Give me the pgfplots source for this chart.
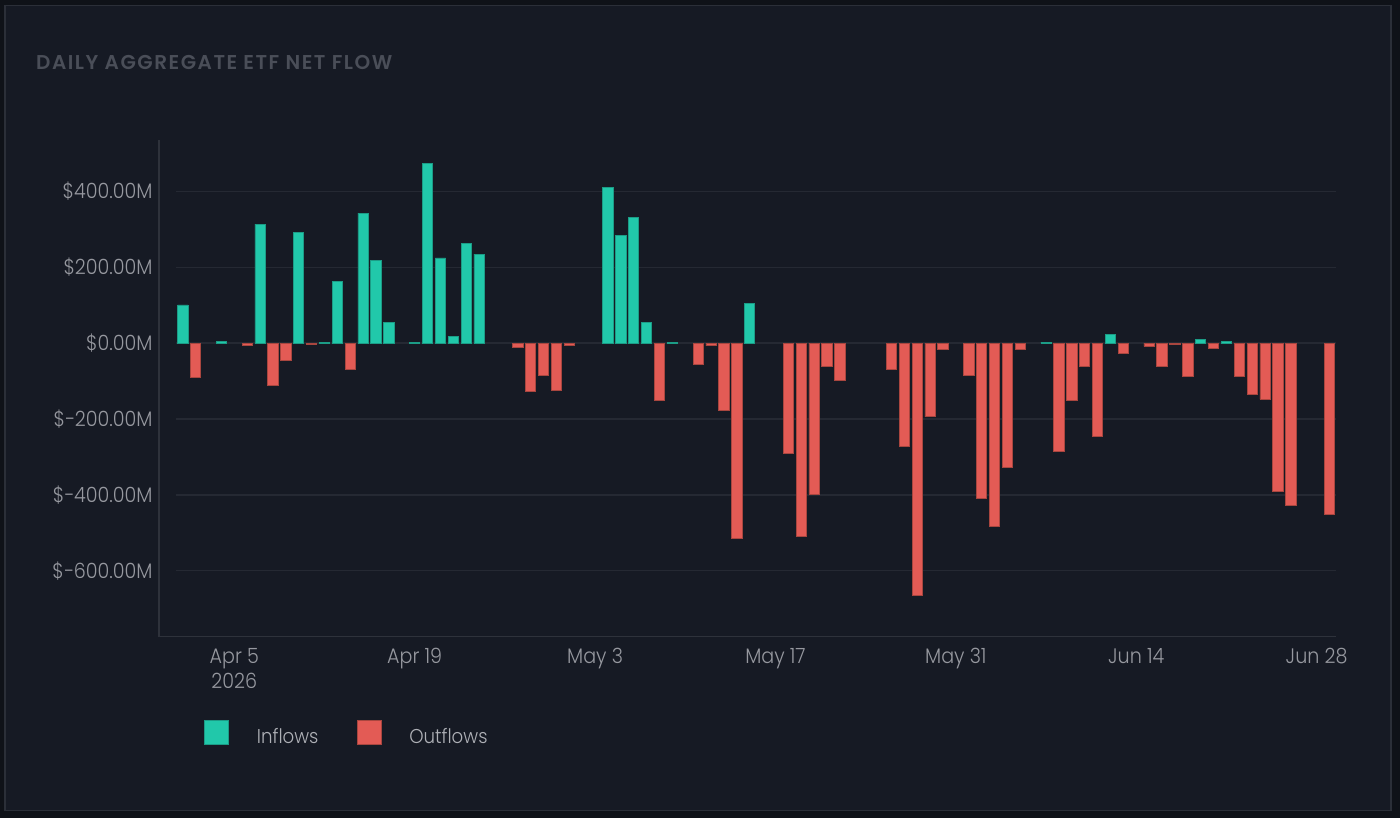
\documentclass[border=0pt]{standalone}
\usepackage{fontspec}
\usepackage{pgfplots}
\pgfplotsset{compat=1.18}
\setmainfont{Poppins}
\IfFontExistsTF{Poppins Light}{\newfontfamily\lightfont{Poppins Light}[FakeStretch=0.91]}{\newfontfamily\lightfont{Poppins}[FakeStretch=0.91]}
\IfFontExistsTF{Poppins SemiBold}{\newfontfamily\titlefont{Poppins SemiBold}[LetterSpace=7.6]}{\newfontfamily\titlefont{Poppins Bold}[LetterSpace=7.6]}
\definecolor{outercol}{HTML}{0F1218}
\definecolor{panelcol}{HTML}{161A24}
\definecolor{bordercol}{HTML}{2B2F38}
\definecolor{gridcol}{HTML}{252933}
\definecolor{axiscol}{HTML}{2E323B}
\definecolor{tickcol}{HTML}{96989F}
\definecolor{legcol}{HTML}{AEB0B6}
\definecolor{titlecol}{HTML}{4A4E58}
\definecolor{ingreen}{HTML}{21C8AA}
\definecolor{ingreenD}{HTML}{1C9C86}
\definecolor{outred}{HTML}{E35B55}
\definecolor{outredD}{HTML}{A9463F}
\pgfplotstableread{
x y
0 101
3 4
6 314
9 291
11 3
12 162
14 343
15 218
16 55
18 3
19 473
20 225
21 17
22 264
23 235
33 411
34 285
35 332
36 54
38 3
44 105
67 3
72 24
79 11
81 4
}\inflows
\pgfplotstableread{
x y
1 -90
5 -6
7 -110
8 -44
10 -3
13 -69
26 -10
27 -126
28 -84
29 -124
30 -6
37 -151
40 -55
41 -7
42 -178
43 -514
47 -291
48 -509
49 -398
50 -62
51 -99
55 -70
56 -271
57 -666
58 -194
59 -16
61 -84
62 -408
63 -484
64 -327
65 -16
68 -284
69 -150
70 -60
71 -245
73 -27
75 -8
76 -60
77 -3
78 -88
80 -13
82 -88
83 -136
84 -148
85 -392
86 -428
89 -451
}\outflows
\newcommand\tickfont{\lightfont\fontsize{21bp}{25bp}\selectfont}
\newcommand\legfont{\lightfont\fontsize{20bp}{24bp}\selectfont}
\begin{document}
\begin{tikzpicture}
\fill[outercol] (0bp,0bp) rectangle (1400bp,818bp);
\filldraw[fill=panelcol, draw=bordercol, line width=1.5bp] (4.8bp,7.4bp) rectangle (1390.8bp,812.3bp);
\node[anchor=base west, inner sep=0pt, text=titlecol] at (36bp,748.7bp) {\titlefont\fontsize{20bp}{24bp}\selectfont DAILY AGGREGATE ETF NET FLOW};
\begin{axis}[
  at={(159bp,181.3bp)}, anchor=south west, scale only axis,
  width=1177bp, height=496.7bp,
  xmin=-1.844, xmax=89.5, ymin=-774, ymax=536,
  ybar, bar width=0.8, bar shift=0pt,
  axis x line*=bottom, axis y line*=left,
  axis line style={axiscol, line width=1.5bp},
  major tick length=0pt,
  xtick={4,18,32,46,60,74,88},
  xticklabels={{Apr 5\\2026},Apr 19,May 3,May 17,May 31,Jun 14,Jun 28},
  ytick={-600,-400,-200,0,200,400},
  yticklabels={\$−600.00M,\$−400.00M,\$−200.00M,\$0.00M,\$200.00M,\$400.00M},
  xticklabel style={font=\tickfont, text=tickcol, align=center, inner sep=0pt, anchor=north, yshift=-11.3bp},
  yticklabel style={font=\tickfont, text=tickcol, anchor=east, inner sep=0pt, xshift=-6.3bp},
  mylegend/.style={legend image code/.code={\filldraw[##1, line width=0.8bp] (0bp,-8bp) rectangle (24bp,16bp); \path (52bp,0bp);}},
  legend style={at={(axis description cs:0.0382,-0.1923)}, anchor=west, draw=none, fill=none, inner sep=0pt,
    font=\legfont, text=legcol, column sep=0pt, nodes={inner sep=0pt},
    /tikz/every even column/.append style={column sep=38bp}},
  legend columns=2, legend cell align=left,
]
\pgfplotsinvokeforeach{-600,-400,-200,0,200,400}{
  \draw[gridcol, line width=1.5bp] (axis cs:-0.5,#1) -- (axis cs:89.5,#1);
}
\addplot[fill=ingreen, draw=ingreenD, line width=0.8bp, mylegend] table {\inflows};
\addlegendentry{Inflows}
\addplot[fill=outred, draw=outredD, line width=0.8bp, mylegend] table {\outflows};
\addlegendentry{Outflows}
\end{axis}
\end{tikzpicture}
\end{document}
